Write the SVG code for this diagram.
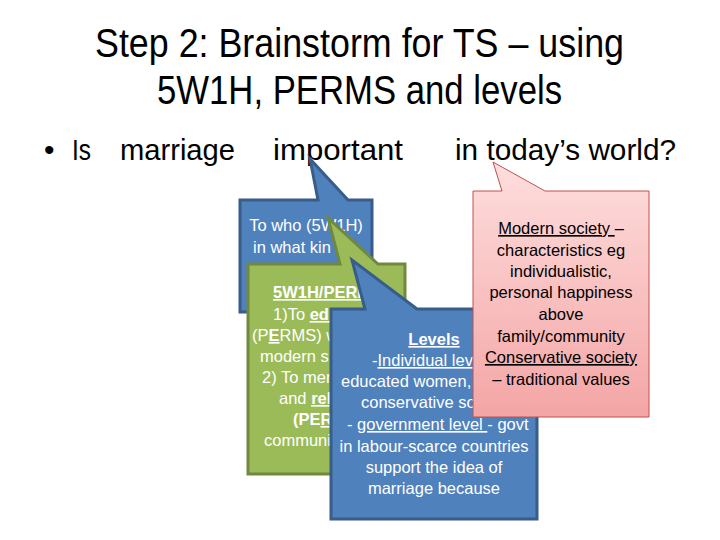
<svg xmlns="http://www.w3.org/2000/svg" width="720" height="540" viewBox="0 0 720 540">
<defs>
<linearGradient id="pinkGrad" x1="0" y1="0" x2="0" y2="1">
<stop offset="0" stop-color="#fedede"/>
<stop offset="1" stop-color="#f4a5a5"/>
</linearGradient>
<style>
text{font-family:"Liberation Sans",Arial,sans-serif}
.title{font-size:40px;fill:#000}
.q{font-size:30px;fill:#000}
.bt{font-size:16.5px;fill:#ffffff}
.pt{font-size:16.5px;fill:#000}
.c{text-anchor:middle}
.b{font-weight:bold}
.u{text-decoration:underline}
.blue{fill:#4f81bd;stroke:#385d8a;stroke-width:3;stroke-linejoin:miter}
.green{fill:#9bbb59;stroke:#71893f;stroke-width:3;stroke-linejoin:miter}
.pink{fill:url(#pinkGrad);stroke:#c0504d;stroke-width:1}
</style>
</defs>
<rect width="720" height="540" fill="#ffffff"/>
<g id="title">
<text class="title" x="95" y="57" textLength="529" lengthAdjust="spacingAndGlyphs">Step 2: Brainstorm for TS – using</text>
<text class="title" x="157" y="104" textLength="405" lengthAdjust="spacingAndGlyphs">5W1H, PERMS and levels</text>
</g>
<g id="question">
<text class="q" x="44" y="160">•</text>
<text class="q" x="72" y="160" textLength="19" lengthAdjust="spacingAndGlyphs">Is</text>
<text class="q" x="120" y="160" textLength="115" lengthAdjust="spacingAndGlyphs">marriage</text>
<text class="q" x="273" y="160" textLength="130" lengthAdjust="spacingAndGlyphs">important</text>
<text class="q" x="455" y="160" textLength="221" lengthAdjust="spacingAndGlyphs">in today’s world?</text>
</g>
<g id="callout-who">
<path class="blue" d="M240,200 L318,200 L310,159 L348,200 L372,200 L372,312 L240,312 Z"/>
<text class="bt c" x="306" y="231">To who (5W1H)</text>
<text class="bt" x="253" y="253">in what kin</text>
</g>
<g id="callout-perms">
<path class="green" d="M248,264 L340,264 L328,218 L378,264 L405,264 L405,474 L248,474 Z"/>
<text class="bt b u" x="273" y="298">5W1H/PERM</text>
<text class="bt" x="273" y="320">1)To <tspan class="b u">edu</tspan></text>
<text class="bt" x="252" y="341">(P<tspan class="b u">E</tspan>RMS) w</text>
<text class="bt" x="260" y="362">modern  s</text>
<text class="bt" x="262" y="383">2) To mer</text>
<text class="bt" x="279" y="404">and <tspan class="b u">rel</tspan></text>
<text class="bt b" x="293" y="425">(PE<tspan class="u">R</tspan></text>
<text class="bt" x="264" y="446">communi</text>
</g>
<g id="callout-levels">
<path class="blue" d="M331,309 L365,309 L352,260 L417,309 L537,309 L537,519 L331,519 Z"/>
<text class="bt b u c" x="434" y="345">Levels</text>
<text class="bt" x="372" y="366">-<tspan class="u">Individual lev</tspan></text>
<text class="bt" x="341" y="387">educated women,</text>
<text class="bt" x="361" y="408">conservative so</text>
<text class="bt" x="347" y="430">- <tspan class="u">government level </tspan> - govt</text>
<text class="bt c" x="434" y="452">in labour-scarce countries</text>
<text class="bt c" x="434" y="473">support the idea of</text>
<text class="bt c" x="434" y="494">marriage because</text>
</g>
<g id="callout-society">
<path class="pink" d="M473,191 L502,191 L493,162 L545,191 L649,191 L649,417 L473,417 Z"/>
<text class="pt c" x="561" y="234"><tspan class="u">Modern society </tspan>–</text>
<text class="pt c" x="561" y="256">characteristics eg</text>
<text class="pt c" x="561" y="277">individualistic,</text>
<text class="pt c" x="561" y="298">personal happiness</text>
<text class="pt c" x="561" y="320">above</text>
<text class="pt c" x="561" y="342">family/community</text>
<text class="pt c u" x="561" y="363">Conservative society</text>
<text class="pt c" x="561" y="385">– traditional values</text>
</g>
</svg>
